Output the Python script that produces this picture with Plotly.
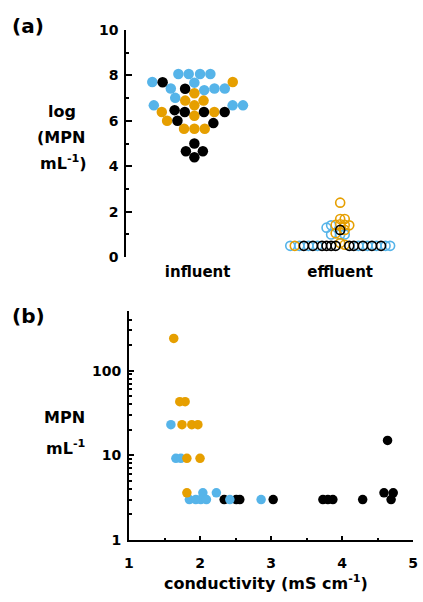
import math
import plotly.graph_objects as go

# ---------------- data ----------------
# panel (a): log(MPN mL-1) values, by series
inf_blue = [8.06, 8.06, 8.06, 8.06, 7.42, 7.35, 7.42, 7.68, 7.42, 7.71, 7.01, 6.68, 6.68, 6.68]
inf_orange = [7.71, 7.21, 6.89, 6.89, 6.68, 6.39, 6.22, 6.39, 6.00, 5.65, 5.65, 5.65]
inf_black = [7.70, 7.41, 6.47, 6.39, 6.39, 6.39, 5.90, 6.00, 5.00, 4.66, 4.66, 4.40]

eff_blue = [1.40, 1.30, 1.00, 1.00, 1.00, 0.5, 0.5, 0.5, 0.5, 0.5, 0.5, 0.5, 0.5, 0.5]
eff_orange = [2.40, 1.68, 1.68, 1.45, 1.42, 1.42, 1.40, 1.20, 1.05, 0.62, 0.55, 0.5]
eff_black = [1.20, 0.5, 0.5, 0.5, 0.5, 0.5, 0.5, 0.5, 0.5, 0.5, 0.5, 0.5]

groups = ["influent", "effluent"]

# panel (b): conductivity (mS cm-1) vs MPN mL-1
b_orange_x = [1.63, 1.715, 1.79, 1.746, 1.884, 1.97, 1.815, 2.00, 1.815]
b_orange_y = [240, 43, 43, 23, 23, 23, 9.2, 9.2, 3.6]
b_blue_x = [1.59, 1.66, 1.73, 2.04, 2.23, 1.85, 1.94, 2.01, 2.09, 2.42, 2.86]
b_blue_y = [23, 9.2, 9.2, 3.6, 3.6, 3.0, 3.0, 3.0, 3.0, 3.0, 3.0]
b_black_x = [4.64, 4.59, 4.72, 2.34, 2.51, 2.56, 3.03, 3.73, 3.80, 3.87, 4.29, 4.69]
b_black_y = [15, 3.6, 3.6, 3.0, 3.0, 3.0, 3.0, 3.0, 3.0, 3.0, 3.0, 3.0]

BLUE = "#56B4E9"
ORANGE = "#E69F00"
BLACK = "#000000"
FONT = "DejaVu Sans"

W, H = 423, 602

def px(x):
    return x / W

def py(y):
    return 1 - y / H

# layout geometry (pixels)
A_LEFT, A_RIGHT, A_TOP, A_BOT = 124.3, 416.3, 22.5, 256.0
B_LEFT, B_RIGHT, B_TOP, B_BOT = 127.0, 418.0, 311.7, 546.5
A_XRANGE = [0.5, 2.5]
A_YRANGE = [0, 10]
px_per_x = (A_RIGHT - A_LEFT) / (A_XRANGE[1] - A_XRANGE[0])
px_per_y = (A_BOT - A_TOP) / (A_YRANGE[1] - A_YRANGE[0])


def swarm(values, dmin, step, order):
    """Beeswarm: points (in the given order) take the free slot nearest the
    centre line, on a grid of `step` px (continuous if step is None)."""
    n = len(values)
    ys = [v * px_per_y for v in values]
    placed = []
    offs = [0.0] * n
    side = 1
    for i in order:
        y = ys[i]
        if step is None:
            cands = [0.0]
            for (xj, yj) in placed:
                dy = abs(y - yj)
                if dy < dmin:
                    dx = math.sqrt(dmin * dmin - dy * dy)
                    cands += [xj + dx, xj - dx]
        else:
            cands = [0.0] + [s * k * step for k in range(1, 60) for s in (1, -1)]
        valid = [c for c in cands
                 if all((c - xj) ** 2 + (y - yj) ** 2 >= dmin * dmin - 1e-6 for xj, yj in placed)]
        best = min(valid, key=lambda c: (round(abs(c), 4), -side * c))
        if best != 0:
            side = -1 if best > 0 else 1
        offs[i] = best
        placed.append((best, y))
    return offs


def compact_swarm(values, dmin, steps):
    n = len(values)
    med = sorted(values)[n // 2]
    orders = [sorted(range(n), key=lambda i: -values[i]),
              sorted(range(n), key=lambda i: values[i]),
              sorted(range(n), key=lambda i: abs(values[i] - med))]
    best, best_w = None, None
    for st in steps:
        for od in orders:
            o = swarm(values, dmin, st, od)
            w = max(o) - min(o)
            if best_w is None or w < best_w - 1e-6:
                best, best_w = o, w
    return best


def interleave(series, chunk=1):
    vals, cols = [], []
    longest = max(len(s[0]) for s in series)
    for k in range(0, longest, chunk):
        for s, c in series:
            for v in s[k:k + chunk]:
                vals.append(v)
                cols.append(c)
    return vals, cols


fig = go.Figure()

# ---- panel (a) ----
panel_a = [
    ([(inf_blue, BLUE), (inf_orange, ORANGE), (inf_black, BLACK)], 1, 10.6, [5.85, None, 2.9]),
    ([(eff_black, BLACK), (eff_blue, BLUE), (eff_orange, ORANGE)], 2, 4.65, None),
]
for gi, (series, chunk, dmin, steps) in enumerate(panel_a):
    vals, cols = interleave(series, chunk)
    if steps is None:
        offs = swarm(vals, dmin, dmin, sorted(range(len(vals)), key=lambda i: -vals[i]))
    else:
        offs = compact_swarm(vals, dmin, steps)
    mean_off = (max(offs) + min(offs)) / 2
    center = gi + 1
    filled = gi == 0
    for col in [BLUE, ORANGE, BLACK]:
        xs = [center + (o - mean_off) / px_per_x for o, c in zip(offs, cols) if c == col]
        ys = [v for v, c in zip(vals, cols) if c == col]
        if filled:
            marker = dict(size=10.5, color=col, line=dict(width=0))
        else:
            marker = dict(size=9, symbol="circle-open", color=col, line=dict(width=1.6, color=col))
        fig.add_trace(go.Scatter(x=xs, y=ys, mode="markers", marker=marker,
                                 xaxis="x", yaxis="y", hoverinfo="skip", cliponaxis=False))

# ---- panel (b) ----
for xs, ys, col in [(b_black_x, b_black_y, BLACK), (b_blue_x, b_blue_y, BLUE),
                    (b_orange_x, b_orange_y, ORANGE)]:
    fig.add_trace(go.Scatter(x=xs, y=ys, mode="markers",
                             marker=dict(size=9.5, color=col, line=dict(width=0)),
                             xaxis="x2", yaxis="y2", hoverinfo="skip", cliponaxis=False))

tickfont = dict(family=FONT, size=14, color="black", weight="bold")

fig.update_layout(
    width=W, height=H,
    margin=dict(l=0, r=0, t=0, b=0),
    paper_bgcolor="white", plot_bgcolor="white",
    showlegend=False,
    font=dict(family=FONT, color="black"),
    xaxis=dict(domain=[px(A_LEFT), px(A_RIGHT)], range=A_XRANGE, anchor="y",
               tickvals=[1, 2], ticktext=groups, showline=False, ticks="",
               showgrid=False, zeroline=False, ticklabelstandoff=4,
               tickfont=dict(family=FONT, size=15, color="black", weight="bold")),
    yaxis=dict(domain=[py(A_BOT), py(A_TOP)], range=A_YRANGE, anchor="x",
               dtick=2, tick0=0, ticks="inside", ticklen=6, tickwidth=2, tickcolor="black",
               showline=True, linewidth=2, linecolor="black", showgrid=False, zeroline=False,
               minor=dict(dtick=1, ticks="inside", ticklen=3, tickwidth=2, tickcolor="black",
                          showgrid=False),
               tickfont=tickfont, ticklabelstandoff=3),
    xaxis2=dict(domain=[px(B_LEFT), px(B_RIGHT)], range=[1, 5], anchor="y2",
                dtick=1, tick0=1, ticks="inside", ticklen=4, tickwidth=2, tickcolor="black",
                showline=True, linewidth=2, linecolor="black", showgrid=False, zeroline=False,
                minor=dict(dtick=0.5, ticks="inside", ticklen=2, tickwidth=2, tickcolor="black",
                           showgrid=False),
                tickfont=tickfont, ticklabelstandoff=9),
    yaxis2=dict(domain=[py(B_BOT), py(B_TOP)], type="log", range=[0, math.log10(500)],
                anchor="x2", tickvals=[1, 10, 100], ticktext=["1", "10", "100"],
                ticks="inside", ticklen=5, tickwidth=2, tickcolor="black",
                showline=True, linewidth=2, linecolor="black", showgrid=False, zeroline=False,
                minor=dict(dtick="D1", ticks="inside", ticklen=3, tickwidth=1.5,
                           tickcolor="black", showgrid=False),
                tickfont=tickfont, ticklabelstandoff=3),
)

def label(text, x, y, size):
    fig.add_annotation(text="<b>" + text + "</b>", x=px(x), y=py(y), xref="paper", yref="paper",
                       xanchor="center", yanchor="middle", showarrow=False,
                       font=dict(family=FONT, size=size, color="black"))

label("(a)", 23.5, 19, 20)
label("log", 58, 106, 16)
label("(MPN", 57, 133.5, 16)
label("mL<sup>-1</sup>)", 60, 159, 16)
label("(b)", 24, 316, 20)
label("MPN", 61, 421, 16)
label("mL<sup>-1</sup>", 62.5, 452, 16)
label("conductivity (mS cm<sup>-1</sup>)", 267.5, 590, 16)

fig.write_html("out.html", config={"displayModeBar": False},
               post_script="document.body.style.margin='0';document.body.style.overflow='hidden';")
